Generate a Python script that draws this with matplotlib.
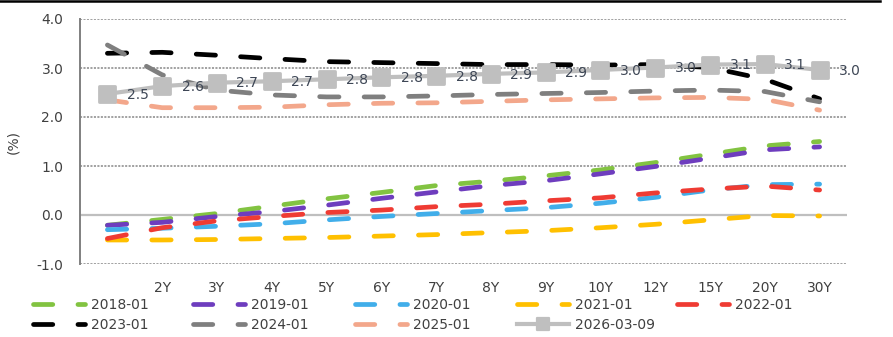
import matplotlib
matplotlib.use("Agg")
import matplotlib.pyplot as plt
from matplotlib.lines import Line2D
from matplotlib.markers import MarkerStyle
from matplotlib.ticker import FixedLocator, FixedFormatter

plt.rcParams['font.family'] = ['DejaVu Sans']
plt.rcParams['lines.scale_dashes'] = False

# Government bond yield curves by tenor (%)
tenors = ["1Y", "2Y", "3Y", "4Y", "5Y", "6Y", "7Y", "8Y", "9Y", "10Y", "12Y", "15Y", "20Y", "30Y"]
tenor_tick_labels = ["", "2Y", "3Y", "4Y", "5Y", "6Y", "7Y", "8Y", "9Y", "10Y", "12Y", "15Y", "20Y", "30Y"]

y2018_01 = [-0.21, -0.09, 0.03, 0.18, 0.33, 0.46, 0.60, 0.69, 0.80, 0.92, 1.07, 1.24, 1.41, 1.50]
y2019_01 = [-0.21, -0.15, -0.03, 0.07, 0.20, 0.34, 0.47, 0.60, 0.70, 0.84, 0.99, 1.16, 1.33, 1.39]
y2020_01 = [-0.30, -0.27, -0.23, -0.18, -0.10, -0.03, 0.03, 0.09, 0.15, 0.24, 0.36, 0.51, 0.62, 0.63]
y2021_01 = [-0.51, -0.51, -0.50, -0.48, -0.46, -0.43, -0.40, -0.36, -0.32, -0.26, -0.19, -0.10, -0.01, -0.02]
y2022_01 = [-0.48, -0.26, -0.12, -0.03, 0.05, 0.10, 0.17, 0.22, 0.29, 0.35, 0.45, 0.53, 0.59, 0.51]
y2023_01 = [3.30, 3.32, 3.26, 3.19, 3.13, 3.11, 3.09, 3.07, 3.07, 3.06, 3.07, 3.01, 2.77, 2.37]
y2024_01 = [3.47, 2.86, 2.55, 2.45, 2.41, 2.41, 2.43, 2.46, 2.48, 2.50, 2.53, 2.55, 2.52, 2.31]
y2025_01 = [2.35, 2.19, 2.19, 2.20, 2.25, 2.28, 2.29, 2.32, 2.35, 2.37, 2.39, 2.40, 2.36, 2.14]
y2026_03_09 = [2.47, 2.63, 2.70, 2.73, 2.77, 2.81, 2.84, 2.88, 2.91, 2.96, 3.01, 3.07, 3.08, 2.96]

dashed_names = ["2018-01", "2019-01", "2020-01", "2021-01", "2022-01",
                "2023-01", "2024-01", "2025-01"]
dashed_values = [y2018_01, y2019_01, y2020_01, y2021_01, y2022_01,
                 y2023_01, y2024_01, y2025_01]
dashed_colors = ["#82C341", "#6E3DBE", "#41AEEA", "#FFC000", "#EF3B33",
                 "#000000", "#7F7F7F", "#F3A78B"]
latest_name = "2026-03-09"
latest_color = "#BFBFBF"

y_ticks = [-1.0, 0.0, 1.0, 2.0, 3.0, 4.0]
y_tick_labels = [f"{v:.1f}" for v in y_ticks]

text_color = "#404040"
FS = 10

W, H = 893, 337
fig = plt.figure(figsize=(W / 100, H / 100), dpi=100)
ax = fig.add_axes([80 / W, 1 - 264 / H, (847 - 80) / W, (264 - 19) / H])

x = list(range(len(tenors)))

# horizontal reference lines
for v in y_ticks:
    if v == 0.0:
        ax.axhline(v, color="#BFBFBF", lw=1.6, zorder=1)
    else:
        ax.axhline(v, color="#9A9A9A", lw=1.3, ls=(0, (1.5, 1.0)), zorder=1)

handles = {}
for name, vals, col in zip(dashed_names, dashed_values, dashed_colors):
    ln, = ax.plot(x, vals, color=col, lw=3.4, dashes=(13.9, 18.1),
                  dash_capstyle="round", solid_capstyle="round", zorder=3)
    handles[name] = ln

sq = MarkerStyle("s", joinstyle="round")
ax.plot(x, y2026_03_09, color=latest_color, lw=3.0, marker=sq,
        markersize=11.5, markeredgewidth=2.0, markeredgecolor=latest_color,
        markerfacecolor=latest_color, zorder=4)
handles[latest_name] = Line2D([], [], color=latest_color, lw=3.0, marker=sq,
                              markersize=8.5, markeredgewidth=1.6,
                              markeredgecolor=latest_color, markerfacecolor=latest_color)

for xi, v in zip(x, y2026_03_09):
    ax.annotate(f"{v:.1f}", (xi, v), xytext=(14.0, -0.5), textcoords="offset points",
                ha="left", va="center", fontsize=FS, color="#3E4756", zorder=5)

ax.set_xlim(-0.5, len(tenors) - 0.5)
ax.set_ylim(-1.0, 4.0)
ax.xaxis.set_major_locator(FixedLocator(x))
ax.xaxis.set_major_formatter(FixedFormatter(tenor_tick_labels))
ax.yaxis.set_major_locator(FixedLocator(y_ticks))
ax.yaxis.set_major_formatter(FixedFormatter(y_tick_labels))
ax.tick_params(axis="x", length=0, pad=12.5, labelsize=FS, labelcolor=text_color)
ax.tick_params(axis="y", length=0, pad=12, labelsize=FS, labelcolor=text_color)

for s in ["top", "right", "bottom"]:
    ax.spines[s].set_visible(False)
ax.spines["left"].set_color("#808080")
ax.spines["left"].set_linewidth(1.4)

ax.set_ylabel("(%)", fontsize=FS, color=text_color)
ax.yaxis.set_label_coords(-0.078, 0.5)

# legend: five columns of two entries each
all_names = dashed_names + [latest_name]
col_x = [33, 193, 355, 517, 677]
for c in range(5):
    names = [all_names[i] for i in (c, c + 5) if i < len(all_names)]
    fig.legend([handles[n] for n in names], names,
               loc="upper left", bbox_to_anchor=(col_x[c] / W, 1 - 298 / H),
               frameon=False, fontsize=FS, handlelength=3.74, handletextpad=0.45,
               borderpad=0, borderaxespad=0, labelspacing=0.42, labelcolor=text_color)

# black rule along the top edge
fig.add_artist(Line2D([0, 880 / W], [1 - 1.0 / H, 1 - 1.0 / H], transform=fig.transFigure,
                      color="black", lw=1.8))

fig.savefig("out.png", dpi=100)
